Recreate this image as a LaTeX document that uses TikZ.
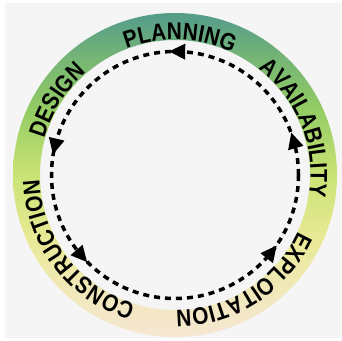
\documentclass[tikz,border=0pt]{standalone}
\usepackage{fontspec}
\usetikzlibrary{decorations.text,calc}
\newfontfamily\ringfont{Liberation Sans}[FakeStretch=0.87]
\newcommand\wordfont{\ringfont\bfseries\fontsize{24}{24}\selectfont}

\definecolor{bggray}{RGB}{245,245,245}
% vertical colour stops of the ring, bottom (25bp) to top (75bp)
\pgfdeclareverticalshading{ringshade}{100bp}{%
  rgb(0bp)=(0.965,0.905,0.830);
  rgb(25bp)=(0.965,0.905,0.830);
  rgb(32bp)=(0.945,0.910,0.730);
  rgb(40bp)=(0.915,0.915,0.590);
  rgb(50bp)=(0.790,0.890,0.460);
  rgb(60bp)=(0.580,0.800,0.390);
  rgb(68bp)=(0.460,0.710,0.460);
  rgb(75bp)=(0.330,0.610,0.540);
  rgb(100bp)=(0.330,0.610,0.540)}

\tikzset{
  ringtext/.style={decorate,
    decoration={text along path, text align=center, text={|\wordfont|#1}}},
  cycleline/.style={line width=3.5pt, dash pattern=on 6pt off 5pt},
  cyclehead/.style={fill=black}
}

\newcommand\ringlabel[2]{%
  \path[ringtext={#2}] ($(c)+(#1+60:135.5)$)
    arc[start angle=#1+60, end angle=#1-60, radius=135.5];}

\begin{document}
\begin{tikzpicture}[x=1pt,y=1pt]
  \useasboundingbox (0,0) rectangle (342,340);
  \fill[white] (0,0) rectangle (342,340);
  \fill[bggray] (5,2) rectangle (342,337);
  \coordinate (c) at (175,165);

  % coloured ring
  \shade[shading=ringshade, even odd rule]
    (c) circle[radius=162] (c) circle[radius=135];

  % dashed cycle with its arrowheads
  \draw[cycleline] (c) circle[radius=123.5];
  \foreach \a in {16.3, 89, 166.7, 221, 321.5} {
    \fill[cyclehead, shift={(c)}, rotate=\a, xshift=123.5pt, rotate=90]
      (8,0) -- (-8,8) -- (-8,-8) -- cycle;
  }

  % phase names along the ring
  \ringlabel{88}{PLANNING}
  \ringlabel{21.5}{AVAILABILITY}
  \ringlabel{-57}{EXPLOITATION}
  \ringlabel{217.5}{CONSTRUCTION}
  \ringlabel{147.6}{DESIGN}
\end{tikzpicture}
\end{document}
